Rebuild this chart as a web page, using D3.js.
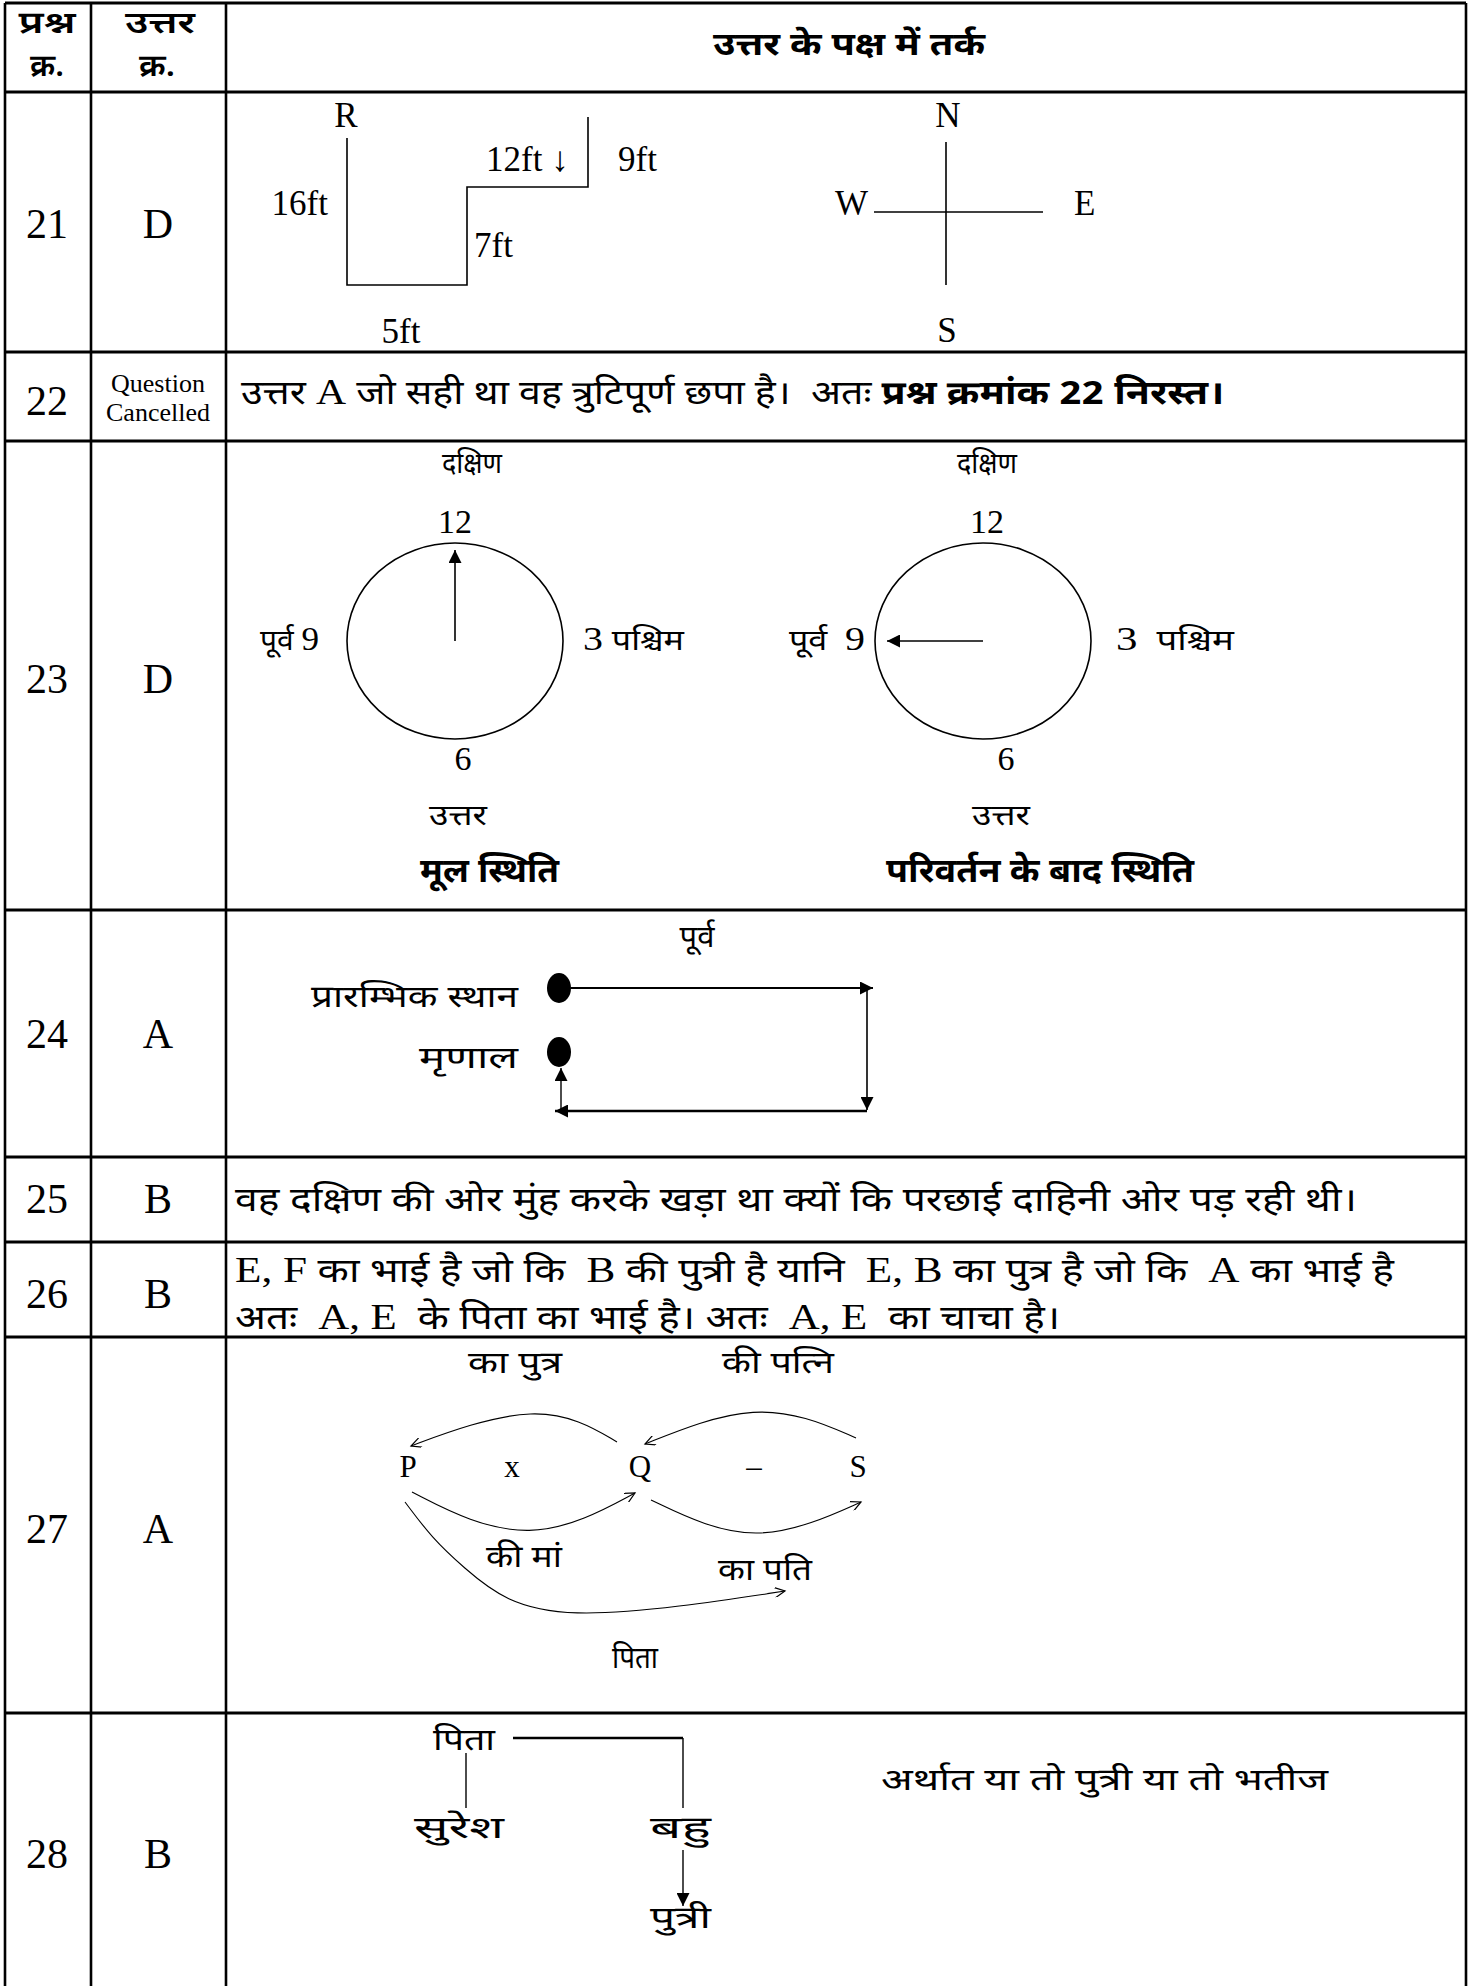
<!DOCTYPE html>
<html>
<head>
<meta charset="utf-8">
<script src="https://cdn.jsdelivr.net/npm/d3@7"></script>
<style>
  body { margin: 0; background: #fff; }
  text { white-space: pre; }
</style>
</head>
<body>
<div id="sheet"></div>
<script>
// ---- data ----
var qNums = ["21", "22", "23", "24", "25", "26", "27", "28"];
var answers = ["D", "", "D", "A", "B", "B", "A", "B"];
var cancelled = ["Question", "Cancelled"];
var headCol1 = ["प्रश्न", "क्र."];
var headCol2 = ["उत्तर", "क्र."];
var headCol3 = "उत्तर के पक्ष में तर्क";

var q21Path = ["R", "16ft", "5ft", "7ft", "12ft ↓", "9ft"];
var compass = ["N", "W", "E", "S"];

var q22Note = [["उत्तर ", "h"], ["A", "s"], [" जो सही था वह त्रुटिपूर्ण छपा है।  अतः ", "h"], ["प्रश्न क्रमांक 22 निरस्त।", "hb"]];

var clockDirs = ["दक्षिण", "उत्तर"];
var clockNums = ["12", "6"];
var clockSides = [["पूर्व ", "9"], ["3", " पश्चिम"]];
var clockSides2 = [["पूर्व  ", "9"], ["3", "  पश्चिम"]];
var clockCaptions = ["मूल स्थिति", "परिवर्तन के बाद स्थिति"];

var q24Labels = ["पूर्व", "प्रारम्भिक स्थान", "मृणाल"];

var q25Note = "वह दक्षिण की ओर मुंह करके खड़ा था क्यों कि परछाई दाहिनी ओर पड़ रही थी।";

var q26Line1 = [["E, F", "s"], [" का भाई है जो कि  ", "h"], ["B", "s"], [" की पुत्री है यानि  ", "h"], ["E, B", "s"], [" का पुत्र है जो कि  ", "h"], ["A", "s"], [" का भाई है", "h"]];
var q26Line2 = [["अतः  ", "h"], ["A, E", "s"], ["  के पिता का भाई है। अतः  ", "h"], ["A, E", "s"], ["  का चाचा है।", "h"]];

var q27Nodes = ["P", "x", "Q", "–", "S"];
var q27Relations = ["का पुत्र", "की पत्नि", "की मां", "का पति", "पिता"];

var q28Labels = ["पिता", "सुरेश", "बहु", "पुत्री"];
var q28Note = "अर्थात या तो पुत्री या तो भतीज";

// ---- layout ----
var W = 1477, H = 1986;
var colX = [5, 91, 226, 1466];
var rowY = [3, 92, 352, 441, 910, 1157, 1242, 1337, 1713, 1986];
var numBase = [238, 415, 693, 1048, 1213, 1308, 1543, 1868];

var serif = "'Liberation Serif','Times New Roman',serif";
var hindi = "'Noto Sans Devanagari','Lohit Devanagari','Mangal','Noto Sans',sans-serif";

var svg = d3.select("#sheet").append("svg")
    .attr("width", W)
    .attr("height", H)
    .style("display", "block");

svg.append("rect").attr("width", W).attr("height", H).attr("fill", "#fff");

var defs = svg.append("defs");
defs.append("marker")
    .attr("id", "tri")
    .attr("markerUnits", "userSpaceOnUse")
    .attr("viewBox", "0 0 10 10")
    .attr("refX", 10).attr("refY", 5)
    .attr("markerWidth", 15).attr("markerHeight", 13)
    .attr("orient", "auto")
    .append("path").attr("d", "M0,0L10,5L0,10z").attr("fill", "#000");
defs.append("marker")
    .attr("id", "open")
    .attr("markerUnits", "userSpaceOnUse")
    .attr("viewBox", "0 0 10 10")
    .attr("refX", 10).attr("refY", 5)
    .attr("markerWidth", 14).attr("markerHeight", 10)
    .attr("orient", "auto")
    .append("path").attr("d", "M0,0L10,5L0,10").attr("fill", "none").attr("stroke", "#000").attr("stroke-width", 1.2);

// helper: text with optional segments, width fitting
function label(x, y, content, o) {
    o = o || {};
    var t = svg.append("text")
        .attr("x", x).attr("y", y)
        .attr("text-anchor", o.anchor || "start")
        .attr("font-size", o.size || 30)
        .attr("fill", "#000");
    var segs = typeof content === "string" ? [[content, o.kind || "h"]] : content;
    segs.forEach(function(s) {
        t.append("tspan")
            .attr("font-family", s[1] === "s" ? serif : hindi)
            .attr("font-weight", s[1] === "hb" || o.bold ? (o.weight || "bold") : "normal")
            .attr("font-size", s[1] === "s" ? (o.ssize || o.size || 30) : (o.size || 30))
            .text(s[0]);
    });
    if (o.w) t.attr("textLength", o.w).attr("lengthAdjust", "spacingAndGlyphs");
    return t;
}

function line(pts, o) {
    o = o || {};
    return svg.append("path")
        .attr("d", d3.line().curve(o.curve || d3.curveLinear)(pts))
        .attr("fill", "none")
        .attr("stroke", "#000")
        .attr("stroke-width", o.sw || 1.6)
        .attr("marker-end", o.marker ? "url(#" + o.marker + ")" : null);
}

// ---- table grid ----
svg.append("g").selectAll("line.v")
    .data(colX).enter().append("line")
    .attr("x1", function(d) { return d; }).attr("x2", function(d) { return d; })
    .attr("y1", rowY[0]).attr("y2", H)
    .attr("stroke", "#000").attr("stroke-width", 2.6);
svg.append("g").selectAll("line.h")
    .data(rowY.slice(0, -1)).enter().append("line")
    .attr("x1", colX[0]).attr("x2", colX[3])
    .attr("y1", function(d) { return d; }).attr("y2", function(d) { return d; })
    .attr("stroke", "#000").attr("stroke-width", 3);

// header (column heads in a medium weight, main head bold)
label(47, 33, headCol1[0], {anchor: "middle", size: 31, bold: true, weight: 600, w: 57});
label(47, 76, headCol1[1], {anchor: "middle", size: 31, bold: true, weight: 600, w: 34});
label(160, 33, headCol2[0], {anchor: "middle", size: 31, bold: true, weight: 600, w: 70});
label(157, 76, headCol2[1], {anchor: "middle", size: 31, bold: true, weight: 600, w: 36});
label(849, 55, headCol3, {anchor: "middle", size: 32, bold: true, w: 272});

// question and answer columns
svg.append("g").selectAll("text")
    .data(qNums).enter().append("text")
    .attr("x", 47).attr("y", function(d, i) { return numBase[i]; })
    .attr("text-anchor", "middle")
    .attr("font-family", serif).attr("font-size", 42)
    .text(function(d) { return d; });
svg.append("g").selectAll("text")
    .data(answers).enter().append("text")
    .attr("x", 158).attr("y", function(d, i) { return numBase[i]; })
    .attr("text-anchor", "middle")
    .attr("font-family", serif).attr("font-size", 42)
    .text(function(d) { return d; });
svg.append("g").selectAll("text")
    .data(cancelled).enter().append("text")
    .attr("x", 158).attr("y", function(d, i) { return 392 + i * 29; })
    .attr("text-anchor", "middle")
    .attr("font-family", serif).attr("font-size", 26)
    .text(function(d) { return d; });

// ---- Q21: path and compass ----
line([[347, 138], [347, 285], [467, 285], [467, 187], [588, 187], [588, 117]], {sw: 1.6});
var q21Pos = [[346, 127, "middle"], [328, 215, "end"], [401, 343, "middle"], [474, 257, "start"], [486, 171, "start"], [618, 171, "start"]];
q21Pos.forEach(function(p, i) {
    label(p[0], p[1], q21Path[i], {anchor: p[2], kind: "s", size: 35});
});
line([[946, 142], [946, 285]], {sw: 1.6});
line([[874, 212], [1043, 212]], {sw: 1.6});
var cPos = [[948, 127, "middle"], [868, 215, "end"], [1074, 215, "start"], [947, 342, "middle"]];
cPos.forEach(function(p, i) {
    label(p[0], p[1], compass[i], {anchor: p[2], kind: "s", size: 35});
});

// ---- Q22 ----
label(241, 404, q22Note, {size: 33, ssize: 35, w: 983});

// ---- Q23: clocks ----
var clocks = [
    {cx: 455, cy: 641, tip: [455, 550], top: 472, num: 455, low: 463, lx: [260, 319], rx: [583, 684], cap: [420, 559], sides: clockSides},
    {cx: 983, cy: 641, tip: [887, 641], top: 987, num: 987, low: 1006, lx: [789, 865], rx: [1116, 1234], cap: [886, 1194], sides: clockSides2}
];
clocks.forEach(function(c, i) {
    svg.append("ellipse")
        .attr("cx", c.cx).attr("cy", c.cy).attr("rx", 108).attr("ry", 98)
        .attr("fill", "none").attr("stroke", "#000").attr("stroke-width", 1.6);
    line([[c.cx, c.cy], c.tip], {sw: 1.6, marker: "tri"});
    label(c.top, 473, clockDirs[0], {anchor: "middle", size: 29, w: 60});
    label(c.num, 533, clockNums[0], {anchor: "middle", kind: "s", size: 34});
    label(c.lx[0], 650, [[c.sides[0][0], "h"], [c.sides[0][1], "s"]], {size: 29, ssize: 34, w: c.lx[1] - c.lx[0]});
    label(c.rx[0], 650, [[c.sides[1][0], "s"], [c.sides[1][1], "h"]], {size: 29, ssize: 34, w: c.rx[1] - c.rx[0]});
    label(c.low, 770, clockNums[1], {anchor: "middle", kind: "s", size: 34});
    label(c.low - 5, 825, clockDirs[1], {anchor: "middle", size: 29, w: 58});
    label(c.cap[0], 882, clockCaptions[i], {size: 34, bold: true, w: c.cap[1] - c.cap[0]});
});

// ---- Q24: route ----
label(697, 947, q24Labels[0], {anchor: "middle", size: 31});
label(311, 1007, q24Labels[1], {size: 31, w: 207});
label(419, 1068, q24Labels[2], {size: 31, w: 99});
[988, 1052].forEach(function(cy) {
    svg.append("ellipse").attr("cx", 559).attr("cy", cy).attr("rx", 12).attr("ry", 15).attr("fill", "#000");
});
line([[571, 988], [873, 988]], {sw: 2, marker: "tri"});
line([[867, 988], [867, 1110]], {sw: 1.6, marker: "tri"});
line([[867, 1111], [555, 1111]], {sw: 2.4, marker: "tri"});
line([[561, 1111], [561, 1068]], {sw: 1.4, marker: "tri"});

// ---- Q25 ----
label(235, 1211, q25Note, {size: 33, w: 1122});

// ---- Q26 ----
label(235, 1282, q26Line1, {size: 33, ssize: 35, w: 1159});
label(235, 1329, q26Line2, {size: 33, ssize: 35, w: 825});

// ---- Q27: relation arcs ----
var nodeX = [408, 512, 640, 754, 858];
q27Nodes.forEach(function(n, i) {
    label(nodeX[i], 1477, n, {anchor: "middle", kind: "s", size: 31});
});
var arcs = [
    [[617, 1442], [580, 1420], [533, 1410], [470, 1424], [411, 1446]],
    [[856, 1438], [806, 1416], [753, 1409], [700, 1422], [645, 1444]],
    [[412, 1492], [470, 1522], [530, 1535], [585, 1520], [635, 1493]],
    [[651, 1500], [705, 1526], [758, 1537], [812, 1524], [861, 1502]],
    [[405, 1502], [432, 1538], [463, 1567], [505, 1602], [570, 1617], [680, 1607], [785, 1591]]
];
arcs.forEach(function(a) {
    line(a, {sw: 1.1, curve: d3.curveBasis, marker: "open"});
});
var relPos = [[468, 1373, 94], [722, 1373, 112], [486, 1567, 76], [718, 1580, 94], [612, 1668, 46]];
relPos.forEach(function(p, i) {
    label(p[0], p[1], q27Relations[i], {size: 31, w: p[2]});
});

// ---- Q28: family tree ----
label(433, 1750, q28Labels[0], {size: 31, w: 62});
label(414, 1838, q28Labels[1], {size: 31, w: 90});
label(650, 1838, q28Labels[2], {size: 31, w: 61});
label(650, 1928, q28Labels[3], {size: 31, w: 61});
label(881, 1790, q28Note, {size: 31, w: 447});
line([[513, 1738], [683, 1738]], {sw: 2.6});
line([[683, 1738], [683, 1808]], {sw: 1.4});
line([[466, 1753], [466, 1808]], {sw: 1.4});
line([[683, 1850], [683, 1906]], {sw: 1.4, marker: "tri"});
</script>
</body>
</html>
